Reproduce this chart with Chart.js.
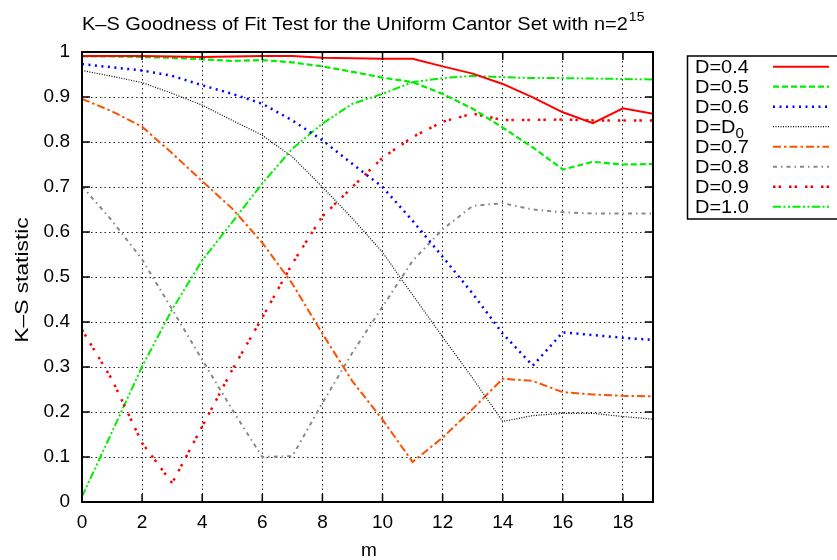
<!DOCTYPE html>
<html>
<head>
<meta charset="utf-8">
<script src="https://cdn.jsdelivr.net/npm/chart.js@4/dist/chart.umd.min.js"></script>
<style>
html, body { margin: 0; padding: 0; background: #fff; }
</style>
</head>
<body>
<canvas id="c" width="837" height="560"></canvas>
<script>
// m values (x axis)
const mValues = [0, 1, 2, 3, 4, 5, 6, 7, 8, 9, 10, 11, 12, 13, 14, 15, 16, 17, 18, 19];

// K-S statistic for each D
const ksD04 = [0.991, 0.991, 0.991, 0.990, 0.989, 0.990, 0.991, 0.991, 0.987, 0.986, 0.985, 0.985, 0.968, 0.952, 0.929, 0.899, 0.866, 0.842, 0.875, 0.863];
const ksD05 = [0.990, 0.990, 0.989, 0.987, 0.984, 0.980, 0.982, 0.977, 0.968, 0.956, 0.943, 0.933, 0.907, 0.874, 0.832, 0.788, 0.739, 0.756, 0.750, 0.751];
const ksD06 = [0.973, 0.966, 0.959, 0.947, 0.926, 0.907, 0.885, 0.848, 0.804, 0.751, 0.700, 0.625, 0.545, 0.463, 0.374, 0.303, 0.377, 0.371, 0.365, 0.360];
const ksD0  = [0.959, 0.946, 0.932, 0.908, 0.882, 0.848, 0.815, 0.767, 0.700, 0.630, 0.555, 0.460, 0.367, 0.275, 0.179, 0.192, 0.197, 0.197, 0.190, 0.184];
const ksD07 = [0.896, 0.868, 0.834, 0.775, 0.713, 0.652, 0.576, 0.485, 0.374, 0.268, 0.183, 0.089, 0.143, 0.207, 0.274, 0.269, 0.244, 0.239, 0.236, 0.235];
const ksD08 = [0.702, 0.625, 0.539, 0.428, 0.316, 0.205, 0.100, 0.102, 0.220, 0.332, 0.434, 0.536, 0.606, 0.658, 0.664, 0.650, 0.644, 0.641, 0.641, 0.641];
const ksD09 = [0.383, 0.272, 0.131, 0.042, 0.168, 0.294, 0.410, 0.530, 0.635, 0.700, 0.765, 0.811, 0.845, 0.863, 0.849, 0.849, 0.850, 0.848, 0.848, 0.848];
const ksD10 = [0.012, 0.156, 0.301, 0.428, 0.537, 0.622, 0.708, 0.785, 0.841, 0.885, 0.907, 0.933, 0.942, 0.947, 0.944, 0.942, 0.942, 0.941, 0.940, 0.939];

// legend labels ("_" marks a subscript)
const seriesLabels = ['D=0.4', 'D=0.5', 'D=0.6', 'D=D_0', 'D=0.7', 'D=0.8', 'D=0.9', 'D=1.0'];
const xTicks = [0, 2, 4, 6, 8, 10, 12, 14, 16, 18];
const yTickLabels = ['0', '0.1', '0.2', '0.3', '0.4', '0.5', '0.6', '0.7', '0.8', '0.9', '1'];

const FONT = '"Liberation Sans", Arial, Helvetica, sans-serif';

function toPoints(vals) {
    return vals.map((v, i) => ({ x: mValues[i], y: v }));
}

// line styles in gnuplot look
const styles = [
    { color: '#ff0000', width: 2,   dash: [] },
    { color: '#00ee00', width: 2.2, dash: [6, 3] },
    { color: '#0000ff', width: 2.5, dash: [2, 4.5] },
    { color: '#000000', width: 1.2, dash: [1, 1.5] },
    { color: '#ff5000', width: 2,   dash: [8, 3, 2.5, 3] },
    { color: '#888888', width: 2,   dash: [4, 4, 1.5, 4] },
    { color: '#ff0000', width: 2.5, dash: [2.5, 3, 2.5, 8] },
    { color: '#00ee00', width: 2,   dash: [8, 2.5, 2, 2.5, 2, 2.5] }
];
const seriesData = [ksD04, ksD05, ksD06, ksD0, ksD07, ksD08, ksD09, ksD10];

const datasets = seriesData.map((vals, i) => ({
    label: seriesLabels[i],
    data: toPoints(vals),
    borderColor: styles[i].color,
    borderWidth: styles[i].width,
    borderDash: styles[i].dash,
    pointRadius: 0,
    fill: false,
    tension: 0
}));

// stretched text like the original (the image was scaled wider)
function drawText(ctx, str, x, y, size, sx) {
    ctx.save();
    ctx.translate(x, y);
    ctx.scale(sx, 1);
    ctx.font = size + 'px ' + FONT;
    ctx.fillText(str, 0, 0);
    const w = ctx.measureText(str).width * sx;
    ctx.restore();
    return w;
}

// border, inner ticks, titles and the boxed legend
const decor = {
    id: 'decor',
    afterDraw(chart) {
        const { ctx, chartArea: a, scales } = chart;
        const xs = scales.x, ys = scales.y;
        ctx.save();
        ctx.strokeStyle = '#000';
        ctx.lineWidth = 1.5;
        ctx.setLineDash([]);
        ctx.beginPath();
        for (let v = 1; v <= 9; v++) {
            const py = ys.getPixelForValue(v / 10);
            ctx.moveTo(a.left, py); ctx.lineTo(a.left + 8, py);
            ctx.moveTo(a.right, py); ctx.lineTo(a.right - 8, py);
        }
        xTicks.forEach(t => {
            const px = xs.getPixelForValue(t);
            ctx.moveTo(px, a.bottom); ctx.lineTo(px, a.bottom - 8);
            ctx.moveTo(px, a.top); ctx.lineTo(px, a.top + 8);
        });
        ctx.stroke();
        ctx.lineWidth = 2;
        ctx.strokeRect(a.left, a.top, a.right - a.left, a.bottom - a.top);

        ctx.fillStyle = '#000';
        ctx.textBaseline = 'alphabetic';
        ctx.textAlign = 'left';

        // title with superscript
        const w = drawText(ctx, 'K\u2013S Goodness of Fit Test for the Uniform Cantor Set with n=2', 82, 30, 18.5, 1.08);
        drawText(ctx, '15', 82 + w + 1, 21, 13, 1.08);

        // y axis title
        ctx.save();
        ctx.translate(28, 280);
        ctx.rotate(-Math.PI / 2);
        ctx.scale(1.2, 1);
        ctx.textAlign = 'center';
        ctx.font = '19px ' + FONT;
        ctx.fillText('K\u2013S statistic', 0, 0);
        ctx.restore();

        // x axis title
        ctx.textAlign = 'center';
        ctx.font = '19px ' + FONT;
        ctx.fillText('m', 369, 556);
        ctx.textAlign = 'left';

        // legend box
        ctx.lineWidth = 1.5;
        ctx.strokeRect(687.5, 56, 160, 163);
        chart.data.datasets.forEach((ds, i) => {
            const cy = 66.7 + 20 * i;
            const parts = ds.label.split('_');
            let tw = drawText(ctx, parts[0], 695, cy + 6.5, 18.5, 1.08);
            if (parts[1]) drawText(ctx, parts[1], 695 + tw, cy + 11, 14, 1.08);
            ctx.save();
            ctx.strokeStyle = ds.borderColor;
            ctx.lineWidth = ds.borderWidth;
            ctx.setLineDash(ds.borderDash);
            ctx.beginPath();
            ctx.moveTo(773, cy);
            ctx.lineTo(829, cy);
            ctx.stroke();
            ctx.restore();
        });
        ctx.restore();
    }
};

new Chart(document.getElementById('c'), {
    type: 'line',
    data: { datasets: datasets },
    options: {
        responsive: false,
        animation: false,
        layout: { padding: { top: 52, right: 184, left: 0, bottom: 0 } },
        plugins: {
            legend: { display: false },
            title: { display: false },
            tooltip: { enabled: false }
        },
        scales: {
            x: {
                type: 'linear',
                min: 0,
                max: 19,
                afterBuildTicks: scale => {
                    scale.ticks = xTicks.map(v => ({ value: v }));
                },
                afterFit: scale => { scale.height = 58; },
                ticks: {
                    color: '#000',
                    padding: 9,
                    font: { family: FONT, size: 19 },
                    maxRotation: 0
                },
                grid: { color: '#222', lineWidth: 1, drawTicks: false },
                border: { display: false, dash: [1.5, 3] }
            },
            y: {
                min: 0,
                max: 1,
                afterFit: scale => { scale.width = 82; },
                ticks: {
                    stepSize: 0.1,
                    color: '#000',
                    padding: 12,
                    font: { family: FONT, size: 19 },
                    callback: (value, index) => yTickLabels[index]
                },
                grid: { color: '#222', lineWidth: 1, drawTicks: false },
                border: { display: false, dash: [1.5, 3] }
            }
        }
    },
    plugins: [decor]
});
</script>
</body>
</html>
